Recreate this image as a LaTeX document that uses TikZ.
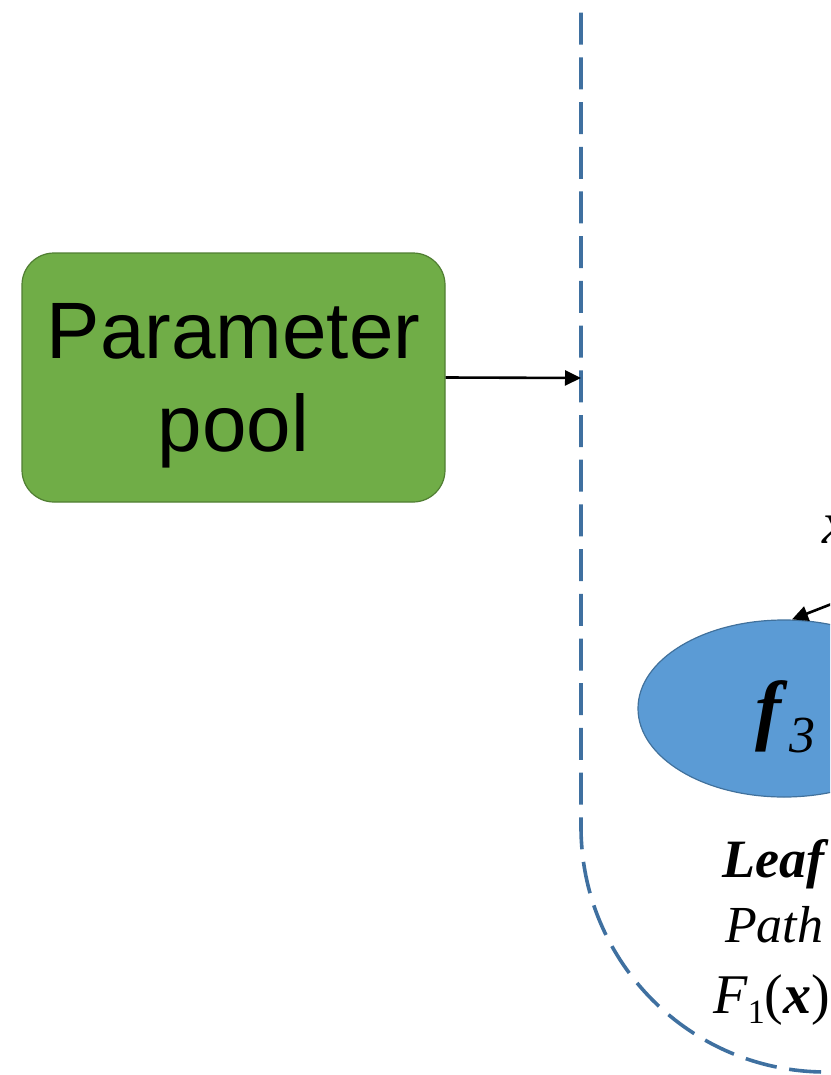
\documentclass[tikz,border=0pt]{standalone}
\usepackage{fontspec}
\setmainfont{Liberation Serif}
\newfontfamily\poolfont{Liberation Sans}
\usepackage{tikz}
\usetikzlibrary{arrows.meta,calc,positioning,shapes.geometric}
\definecolor{ppGreen}{HTML}{70AD47}
\definecolor{ppGreenLine}{HTML}{507E32}
\definecolor{ppBlue}{HTML}{5B9BD5}
\definecolor{ppBlueLine}{HTML}{41719C}
\definecolor{ppDash}{HTML}{3F70A0}

\begin{document}
\begin{tikzpicture}[x=1pt,y=-1pt,>={Triangle[length=16pt,width=15pt]},
  flowarrow/.style={->,black,line width=2.6pt},
  leaftext/.style={anchor=base west,inner sep=0pt,text=black}]
\useasboundingbox (0,0) rectangle (830,1075);
\clip (0,0) rectangle (830,1075);
\node[rounded corners=32pt,fill=ppGreen,draw=ppGreenLine,line width=1.2pt,minimum width=423pt,minimum height=249pt,inner sep=0pt] (param) at (233.5,377.5) {};
\node[inner sep=0pt,align=center,font=\poolfont\fontsize{80}{93}\selectfont] (paramlab) at ([yshift=-8pt]param.center) {Parameter\\pool};
% group border
\draw[ppDash,line width=3.6pt,dash pattern=on 32pt off 12.7pt,rounded corners=245pt] (581,-32) -- (581,1072) -- (1400,1072);
\coordinate (grpin) at (581,378);
\draw[flowarrow] (param.east) -- (grpin);
% leaf node
\node[ellipse,fill=ppBlue,draw=ppBlueLine,line width=1.2pt,minimum width=292pt,minimum height=177pt,inner sep=0pt] (leafthree) at (784,708.5) {};
\node[leaftext] (leafthreelab) at (755,735) {{\fontsize{78}{78}\selectfont\bfseries\itshape f}\kern8pt\raisebox{-17pt}{\fontsize{52}{52}\selectfont\itshape 3}};
\coordinate (edgefrom) at (906,575);
\draw[flowarrow] (edgefrom) -- ([xshift=8pt]leafthree.north);
\node[leaftext,font=\fontsize{60}{60}\selectfont\itshape] (edgelab) at (822,543) {x};
\node[leaftext,font=\fontsize{54}{54}\selectfont\bfseries\itshape] (leafname) at (722,877) {Leaf};
\node[leaftext,font=\fontsize{52}{52}\selectfont\itshape] (leafpath) at (725,942) {Path};
\node[leaftext,font=\fontsize{56}{56}\selectfont] (leaffun) at (713,1013) {\textit{F}\raisebox{-10pt}{\fontsize{34}{34}\selectfont 1}(\textbf{\textit{x}})};
\end{tikzpicture}
\end{document}
